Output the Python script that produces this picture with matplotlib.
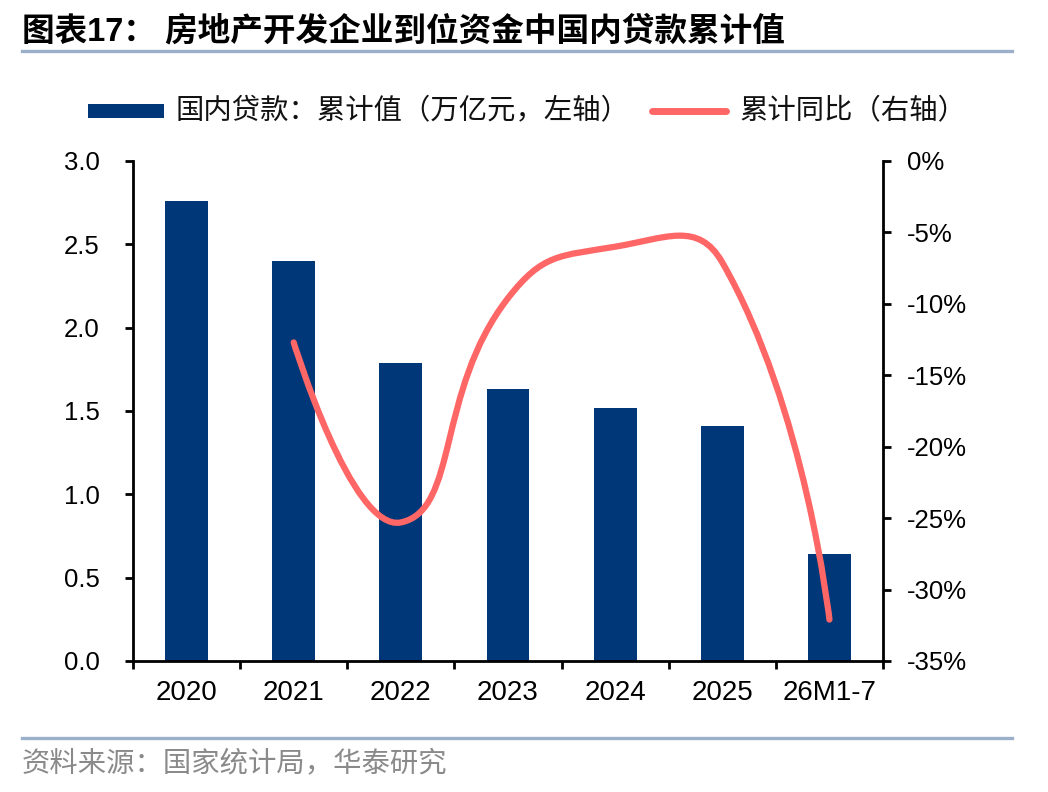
import matplotlib
matplotlib.use('Agg')
import matplotlib.pyplot as plt
from matplotlib.path import Path
from matplotlib.patches import PathPatch, Rectangle
from matplotlib.lines import Line2D
import numpy as np

# ---------------- data ----------------
categories = ['2020', '2021', '2022', '2023', '2024', '2025', '26M1-7']
loans = [2.76, 2.40, 1.79, 1.63, 1.52, 1.41, 0.64]          # 万亿元, left axis
yoy_categories = ['2021', '2022', '2023', '2024', '2025', '26M1-7']
yoy = [-12.7, -25.3, -9.6, -6.0, -7.1, -32.1]              # %, right axis
left_ticks = [0.0, 0.5, 1.0, 1.5, 2.0, 2.5, 3.0]
right_ticks = [0, -5, -10, -15, -20, -25, -30, -35]

title = '图表17： 房地产开发企业到位资金中国内贷款累计值'
legend_bar = '国内贷款：累计值（万亿元，左轴）'
legend_line = '累计同比（右轴）'
source = '资料来源：国家统计局，华泰研究'

# ---------------- style ----------------
plt.rcParams['font.family'] = ['Liberation Sans', 'Noto Sans CJK SC', 'DejaVu Sans']
NAVY = '#003778'
RED = '#FF6666'
RULE = '#9BB0C8'
W, H = 1048, 792

fig = plt.figure(figsize=(W / 100, H / 100), dpi=100)
ax = fig.add_axes([133 / W, (H - 661) / H, 750 / W, (661 - 161) / H])

x = np.arange(len(categories))
ax.bar(x, loans, width=0.4, color=NAVY, zorder=2)
ax.set_xlim(-0.5, len(categories) - 0.5)
ax.set_ylim(0, 3)
ax.set_yticks(left_ticks)
ax.set_yticklabels([f'{v:.1f}' for v in left_ticks])
ax.set_xticks(np.arange(-0.5, len(categories), 1.0))
ax.set_xticklabels([])
ax.set_xticks(x, minor=True)
ax.set_xticklabels(categories, minor=True)
ax.tick_params(axis='x', which='major', direction='out', length=6, width=2)
ax.tick_params(axis='x', which='minor', length=0, pad=14, labelsize=20)
ax.tick_params(axis='y', direction='out', length=6, width=2, pad=18, labelsize=18.5)
for s in ['top', 'right']:
    ax.spines[s].set_visible(False)
for s in ['left', 'bottom']:
    ax.spines[s].set_linewidth(2)

ax2 = ax.twinx()
ax2.set_ylim(-35, 0)
ax2.set_yticks(right_ticks)
ax2.set_yticklabels([f'{v}%' for v in right_ticks])
ax2.tick_params(axis='y', direction='out', length=6, width=2, pad=11, labelsize=18.5)
for s in ['top', 'left', 'bottom']:
    ax2.spines[s].set_visible(False)
ax2.spines['right'].set_linewidth(2)

# smoothed line (Bezier through data points, control points in display space)
xs = np.array([categories.index(c) for c in yoy_categories], dtype=float)
pts = ax2.transData.transform(np.column_stack([xs, yoy]))
n = len(pts)
t = 0.5
ca = [None] * n
cb = [None] * n
ca[0] = pts[0]
cb[-1] = pts[-1]
for i in range(1, n - 1):
    d01 = np.hypot(*(pts[i] - pts[i - 1]))
    d12 = np.hypot(*(pts[i + 1] - pts[i]))
    fa = t * d01 / (d01 + d12)
    fb = t * d12 / (d01 + d12)
    cb[i] = pts[i] - fa * (pts[i + 1] - pts[i - 1])
    ca[i] = pts[i] + fb * (pts[i + 1] - pts[i - 1])
verts = [pts[0]]
codes = [Path.MOVETO]
for i in range(n - 1):
    verts += [ca[i], cb[i + 1], pts[i + 1]]
    codes += [Path.CURVE4] * 3
verts = ax2.transData.inverted().transform(np.array(verts))
patch = PathPatch(Path(verts, codes), fill=False, edgecolor=RED, lw=4.5,
                  capstyle='round', joinstyle='round', zorder=3)
ax2.add_patch(patch)

# ---------------- decorations ----------------
def fx(px):
    return px / W

def fy(py):
    return (H - py) / H

fig.text(fx(22), fy(32), title, fontsize=23.5, fontweight='bold', va='center', ha='left')
fig.add_artist(Line2D([fx(22), fx(1012)], [fy(51), fy(51)], transform=fig.transFigure,
                      color=RULE, lw=2.4))
fig.add_artist(Line2D([fx(22), fx(1012)], [fy(738), fy(738)], transform=fig.transFigure,
                      color=RULE, lw=2.4))

fig.add_artist(Rectangle((fx(88), fy(118)), 76 / W, 14 / H, transform=fig.transFigure,
                         facecolor=NAVY, edgecolor='none'))
fig.text(fx(176), fy(111), legend_bar, fontsize=20.4, va='center', ha='left', color='#111111')
fig.add_artist(Line2D([fx(652), fx(726)], [fy(111), fy(111)], transform=fig.transFigure,
                      color=RED, lw=5, solid_capstyle='round'))
fig.text(fx(740), fy(111), legend_line, fontsize=20.4, va='center', ha='left', color='#111111')

fig.text(fx(22), fy(764), source, fontsize=20.4, va='center', ha='left', color='#8A8A8A')

fig.savefig('out.png', dpi=100)
